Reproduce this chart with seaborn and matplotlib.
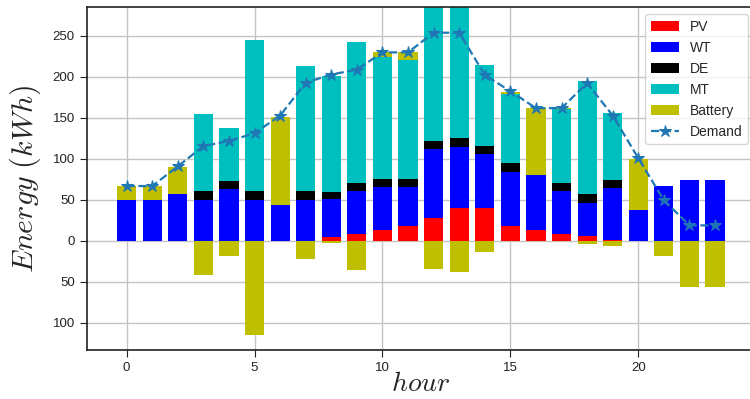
import numpy as np
import matplotlib
matplotlib.use("Agg")
import matplotlib.pyplot as plt
import seaborn as sns
from matplotlib.ticker import FuncFormatter

hours = list(range(24))
pv = [0, 0, 0, 0, 0, 0, 0, 0, 5, 8.7, 13.6, 18.6, 28.5, 39.7, 39.7, 18.6, 13.6, 8.7, 6.2, 1.2, 0, 0, 0, 0]
wt = [50, 50, 57, 50, 63, 50, 43.4, 50, 46, 52.3, 52.4, 47.4, 83.1, 74.3, 66.1, 65.7, 67, 52, 40.1, 63.3, 37.2, 67, 74.4, 74.4]
de = [0, 0, 0, 10.7, 10, 10.7, 0, 10.7, 8.5, 9.7, 9.6, 9.6, 9.9, 11, 9.5, 11.2, 0, 10, 10.7, 9.9, 0, 0, 0, 0]
mt = [0, 0, 0, 94.3, 64.6, 184.8, 0, 152.3, 142.1, 172.3, 148.8, 145.1, 164.5, 167, 99.2, 84.3, 0, 90.3, 137.6, 81.6, 0, 0, 0, 0]
battery = [16.5, 16.5, 33.5, -41, -18.6, -115, 107.8, -22, -2, -36, 6.2, 10, -34, -38, -13, 2.4, 81.8, 1.2, -3.7, -6.2, 63.2, -18.6, -56.6, -56.6]
demand = [67, 67, 91, 115.7, 122, 131.4, 153, 193, 203, 209, 230, 230, 254, 254, 202.5, 182.6, 162, 162, 192.6, 153, 101, 49.6, 19, 19]

sns.set_style("ticks")
plt.rcParams['mathtext.fontset'] = 'cm'
plt.rcParams['font.family'] = ['Liberation Sans', 'DejaVu Sans']

fig = plt.figure(figsize=(7.5, 3.99), dpi=100)
ax = fig.add_axes([86.7 / 750, 49 / 399, (755 - 86.7) / 750, (350 - 7.3) / 399])

x = np.array(hours)
pv_a = np.array(pv)
wt_a = np.array(wt)
de_a = np.array(de)
mt_a = np.array(mt)
bat_a = np.array(battery)
w = 0.75
bk = dict(linewidth=0, zorder=2)

b1 = ax.bar(x, pv_a, w, color='r', label='PV', **bk)
b2 = ax.bar(x, wt_a, w, bottom=pv_a, color='b', label='WT', **bk)
b3 = ax.bar(x, de_a, w, bottom=pv_a + wt_a, color='k', label='DE', **bk)
b4 = ax.bar(x, mt_a, w, bottom=pv_a + wt_a + de_a, color='c', label='MT', **bk)
tot = pv_a + wt_a + de_a + mt_a
b5 = ax.bar(x, bat_a, w, bottom=np.where(bat_a > 0, tot, 0), color='y', label='Battery', **bk)

sns.lineplot(x=hours, y=demand, ax=ax, color='#1f77b4', linestyle='--', marker='*',
             markersize=9, markeredgecolor='#1f77b4', linewidth=1.6, label='Demand', zorder=3)

ax.set_xlim(-1.5625, 24.5625)
ax.set_ylim(-133, 285)
ax.set_yticks([-100, -50, 0, 50, 100, 150, 200, 250])
ax.set_xticks([0, 5, 10, 15, 20])
ax.yaxis.set_major_formatter(FuncFormatter(lambda v, p: f"{abs(int(v))}"))
ax.grid(True, color='#c4c4c4', linewidth=1.0, zorder=0)
ax.set_axisbelow(True)
for s in ax.spines.values():
    s.set_color('#222222')
    s.set_linewidth(1.2)
ax.tick_params(labelsize=9.5, colors='#222222', length=5)

ax.set_xlabel(r'$hour$', fontsize=20, labelpad=-2)
ax.set_ylabel(r'$Energy\ (kWh)$', fontsize=21.5, labelpad=7)

handles = [b1, b2, b3, b4, b5, ax.lines[0]]
labels = ['PV', 'WT', 'DE', 'MT', 'Battery', 'Demand']
ax.legend(handles, labels, loc='upper right', fontsize=10, frameon=True, borderaxespad=0.5)

fig.savefig('out.png', dpi=100)
